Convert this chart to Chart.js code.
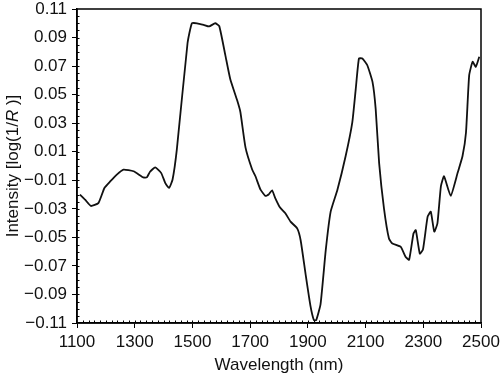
<!DOCTYPE html>
<html>
<head>
<meta charset="utf-8">
<script src="https://cdn.jsdelivr.net/npm/chart.js@4/dist/chart.umd.min.js"></script>
<style>
  html, body { margin: 0; padding: 0; background: #fff; }
  #wrap { width: 500px; height: 376px; }
</style>
</head>
<body>
<div id="wrap"><canvas id="myChart" width="500" height="376"></canvas></div>
<script>
// wavelength (nm) and intensity
var wavelength = [1110, 1128, 1148, 1174, 1195, 1215, 1238, 1261, 1296, 1330, 1342, 1353, 1371, 1392, 1406, 1419, 1431, 1446,
    1483, 1498, 1516, 1539, 1558, 1579, 1593, 1614, 1631, 1655, 1666, 1684, 1707, 1718, 1736, 1753, 1764, 1776, 1787,
    1803, 1822, 1840, 1863, 1875, 1892, 1909, 1921, 1929, 1944, 1962, 1979, 2002, 2031, 2054, 2066, 2077, 2089, 2106,
    2124, 2135, 2147, 2164, 2181, 2193, 2222, 2239, 2251, 2266, 2274, 2288, 2299, 2315, 2326, 2338, 2349, 2361, 2372,
    2395, 2419, 2436, 2448, 2459, 2471, 2482, 2494];
var intensity = [-0.020, -0.0236, -0.028, -0.026, -0.0154, -0.0108, -0.006, -0.0025, -0.0037, -0.008, -0.008, -0.004, -0.001, -0.005, -0.012, -0.0154, -0.0096, 0.0117,
    0.086, 0.100, 0.100, 0.0989, 0.0978, 0.100, 0.098, 0.0777, 0.061, 0.046, 0.038, 0.0129, -0.0025, -0.007, -0.0166, -0.021, -0.020, -0.017, -0.0225,
    -0.0289, -0.0331, -0.039, -0.0437, -0.052, -0.0756, -0.098, -0.108, -0.108, -0.0968, -0.059, -0.032, -0.017, 0.007, 0.0306, 0.054, 0.0753, 0.0753, 0.0706,
    0.0589, 0.040, 0.002, -0.030, -0.0508, -0.0543, -0.0567, -0.0638, -0.0657, -0.0473, -0.0449, -0.0614, -0.0584, -0.0355, -0.032, -0.046, -0.0402, -0.0143, -0.0072,
    -0.0209, -0.0048, 0.007, 0.0235, 0.0635, 0.073, 0.0695, 0.0765];

var xMin = 1100, xMax = 2500, xStep = 200;
var yMin = -0.11, yMax = 0.11, yStep = 0.02;

var points = [];
for (let i = 0; i < wavelength.length; i++) {
    points.push({x: wavelength[i], y: intensity[i]});
}

var fontFamily = '"Liberation Sans", Arial, Helvetica, sans-serif';

// frame, minor ticks and the y title with an italic R
var extras = {
    id: 'extras',
    afterDraw: function(chart) {
        var ctx = chart.ctx;
        var a = chart.chartArea;
        var xs = chart.scales.x, ys = chart.scales.y;
        ctx.save();
        ctx.strokeStyle = '#000';
        ctx.lineWidth = 1.5;
        ctx.strokeRect(a.left, a.top, a.right - a.left, a.bottom - a.top);

        ctx.lineWidth = 1;
        ctx.beginPath();
        for (let v = xMin + 20; v < xMax; v += 20) {
            let px = Math.round(xs.getPixelForValue(v)) + 0.5;
            ctx.moveTo(px, a.bottom);
            ctx.lineTo(px, a.bottom - 2.5);
        }
        for (let k = 1; k < 44; k++) {
            let v = yMin + k * 0.005;
            let py = Math.round(ys.getPixelForValue(v)) + 0.5;
            ctx.moveTo(a.left, py);
            ctx.lineTo(a.left + 2.5, py);
        }
        ctx.stroke();

        // y axis title
        var parts = [['Intensity [log(1/', 'normal'], ['R', 'italic'], [' )]', 'normal']];
        var total = 0;
        parts.forEach(function(p) {
            ctx.font = p[1] + ' 17px ' + fontFamily;
            total += ctx.measureText(p[0]).width;
        });
        ctx.translate(13, (a.top + a.bottom) / 2);
        ctx.rotate(-Math.PI / 2);
        ctx.fillStyle = '#111';
        ctx.textBaseline = 'middle';
        ctx.textAlign = 'left';
        var x = -total / 2;
        parts.forEach(function(p) {
            ctx.font = p[1] + ' 17px ' + fontFamily;
            ctx.fillText(p[0], x, 0);
            x += ctx.measureText(p[0]).width;
        });
        ctx.restore();
    }
};

var data = {
    datasets: [
        {
            label: 'Intensity',
            data: points,
            fill: false,
            borderColor: '#111',
            borderWidth: 1.8,
            pointRadius: 0,
            tension: 0.15
        }
    ]
};

var config = {
    type: 'line',
    data: data,
    plugins: [extras],
    options: {
        responsive: false,
        animation: false,
        layout: {padding: {top: 9, right: 19, left: 0, bottom: 0}},
        plugins: {
            legend: {display: false},
            tooltip: {enabled: false}
        },
        scales: {
            x: {
                type: 'linear',
                min: xMin,
                max: xMax,
                afterFit: function(s) {
                    s.height = 53;
                    s.paddingLeft = 0;
                    s.paddingRight = 0;
                },
                ticks: {
                    stepSize: xStep,
                    color: '#111',
                    padding: 4,
                    maxRotation: 0,
                    font: {family: fontFamily, size: 17},
                    callback: function(v) { return String(v); }
                },
                grid: {drawOnChartArea: false, drawTicks: true, tickLength: 5, color: '#000'},
                border: {display: true, color: '#000', width: 1.5},
                title: {
                    display: true,
                    text: 'Wavelength (nm)',
                    color: '#111',
                    font: {family: fontFamily, size: 17},
                    padding: {top: 2, bottom: 0}
                }
            },
            y: {
                min: yMin,
                max: yMax,
                afterFit: function(s) {
                    s.width = 77;
                    s.paddingTop = 0;
                    s.paddingBottom = 0;
                },
                ticks: {
                    stepSize: yStep,
                    color: '#111',
                    padding: 5,
                    font: {family: fontFamily, size: 17},
                    callback: function(v) { return v.toFixed(2).replace('-', '\u2212'); }
                },
                grid: {drawOnChartArea: false, drawTicks: true, tickLength: 5, color: '#000'},
                border: {display: true, color: '#000', width: 1.5}
            }
        }
    }
};

var ctx = document.getElementById('myChart').getContext('2d');
var myChart = new Chart(ctx, config);
</script>
</body>
</html>
